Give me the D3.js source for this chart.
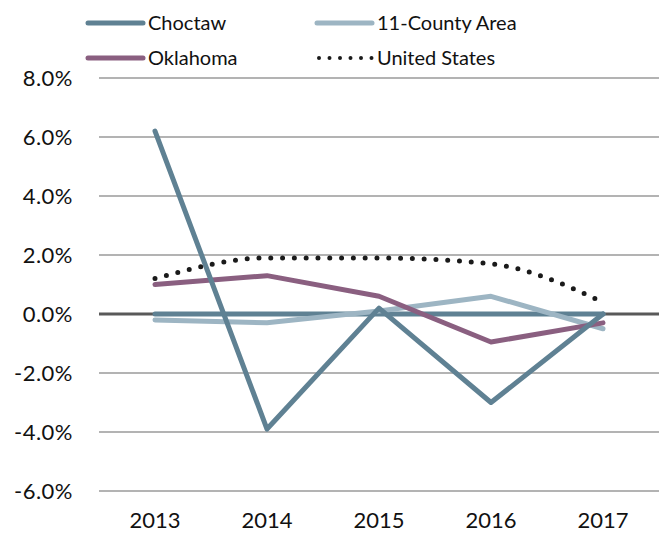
<!DOCTYPE html>
<html>
<head>
<meta charset="utf-8">
<script src="https://cdn.jsdelivr.net/npm/d3@7"></script>
<style>
  body { margin: 0; background: #fff; }
  svg text { font-family: "Futura", "Century Gothic", Lato, "DejaVu Sans", sans-serif; fill: #111; }
</style>
</head>
<body>
<div id="chart"></div>
<script>
// data (annual change, %)
const years = ['2013', '2014', '2015', '2016', '2017'];
const choctaw = [6.2, -3.9, 0.2, -3.0, 0.0];
const countyArea = [-0.2, -0.3, 0.1, 0.6, -0.5];
const oklahoma = [1.0, 1.3, 0.6, -0.95, -0.3];
const unitedStates = [1.2, 1.9, 1.9, 1.7, 0.4];
const baseline = [0, 0, 0, 0, 0];
const yTicks = [-6, -4, -2, 0, 2, 4, 6, 8];

const width = 661, height = 535;
const margin = { top: 78, right: 2, bottom: 44, left: 99 };

const svg = d3.select('#chart').append('svg')
    .attr('width', width)
    .attr('height', height);

const xScale = d3.scaleBand()
    .domain(years)
    .range([margin.left, width - margin.right]);

const yScale = d3.scaleLinear()
    .domain([-6, 8])
    .range([height - margin.bottom, margin.top]);

// gridlines
svg.append('g')
    .selectAll('line')
    .data(yTicks.filter(t => t !== 0))
    .join('line')
    .attr('x1', margin.left)
    .attr('x2', width - margin.right)
    .attr('y1', d => yScale(d))
    .attr('y2', d => yScale(d))
    .attr('stroke', '#9a9a9a')
    .attr('stroke-width', 1.5);

// zero line
svg.append('line')
    .attr('x1', margin.left)
    .attr('x2', width - margin.right)
    .attr('y1', yScale(0))
    .attr('y2', yScale(0))
    .attr('stroke', '#595959')
    .attr('stroke-width', 3);

// y axis labels
const yAxis = svg.append('g')
    .attr('transform', `translate(${margin.left},0)`)
    .call(d3.axisLeft(yScale).tickValues(yTicks).tickFormat(d => d.toFixed(1) + '%').tickSize(0).tickPadding(26));
yAxis.select('.domain').remove();
yAxis.selectAll('text').style('font-size', '22px').style('letter-spacing', '0.5px').attr('fill', '#111');

// x axis labels
const xAxis = svg.append('g')
    .attr('transform', `translate(0,${height - margin.bottom})`)
    .call(d3.axisBottom(xScale).tickSize(0).tickPadding(21));
xAxis.select('.domain').remove();
xAxis.selectAll('text').style('font-size', '22px').attr('fill', '#111');

const xPos = (_, i) => xScale(years[i]) + xScale.bandwidth() / 2;

const series = [
    { name: 'base', values: baseline, color: '#5f8193', width: 5 },
    { name: '11-County Area', values: countyArea, color: '#9db5c3', width: 5 },
    { name: 'Oklahoma', values: oklahoma, color: '#8a5f80', width: 5 },
    { name: 'Choctaw', values: choctaw, color: '#5f8193', width: 5 }
];

series.forEach(s => {
    const line = d3.line()
        .x(xPos)
        .y(d => yScale(d));
    svg.append('path')
        .datum(s.values)
        .attr('fill', 'none')
        .attr('stroke', s.color)
        .attr('stroke-width', s.width)
        .attr('stroke-linejoin', 'round')
        .attr('stroke-linecap', 'round')
        .attr('d', line);
});

// United States dotted, smoothed
const usLine = d3.line()
    .x(xPos)
    .y(d => yScale(d))
    .curve(d3.curveMonotoneX);
svg.append('path')
    .datum(unitedStates)
    .attr('fill', 'none')
    .attr('stroke', '#1a1a1a')
    .attr('stroke-width', 5)
    .attr('stroke-linecap', 'round')
    .attr('stroke-dasharray', '0 11.8')
    .attr('d', usLine);

// legend
const legendItems = [
    { name: 'Choctaw', color: '#5f8193', x: 88, y: 23, dotted: false },
    { name: '11-County Area', color: '#9db5c3', x: 317, y: 23, dotted: false },
    { name: 'Oklahoma', color: '#8a5f80', x: 88, y: 58, dotted: false },
    { name: 'United States', color: '#1a1a1a', x: 317, y: 58, dotted: true }
];

legendItems.forEach(item => {
    const row = svg.append('g').attr('transform', `translate(${item.x},${item.y})`);
    row.append('line')
        .attr('x1', item.dotted ? 2 : 0)
        .attr('x2', 55)
        .attr('stroke', item.color)
        .attr('stroke-width', item.dotted ? 4 : 5)
        .attr('stroke-linecap', 'round')
        .attr('stroke-dasharray', item.dotted ? '0 10.5' : null);
    row.append('text')
        .attr('x', 60)
        .attr('y', 7)
        .style('font-size', '20px')
        .text(item.name);
});
</script>
</body>
</html>
